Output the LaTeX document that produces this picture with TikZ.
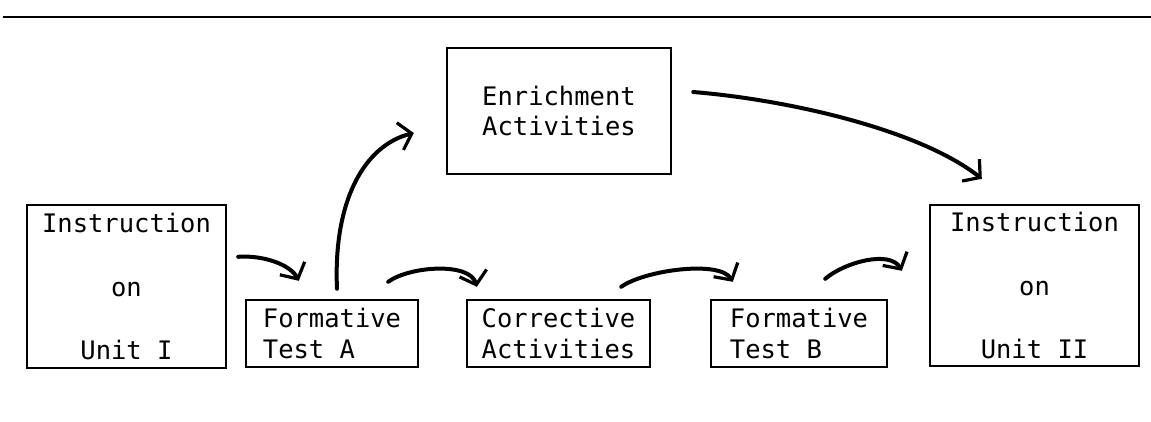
\documentclass[tikz,border=0pt]{standalone}
\usepackage{fontspec}
\setmonofont{DejaVu Sans Mono}
\usetikzlibrary{arrows.meta}
\begin{document}
\begin{tikzpicture}[x=1pt,y=-1pt,
  box/.style={draw, line width=2.4pt, inner sep=0pt,
    font=\ttfamily\fontsize{25.5}{30.5}\selectfont},
  conn/.style={line width=4pt, line cap=round,
    -{Straight Barb[length=12pt,width=28pt,line width=3.2pt]}}]
\useasboundingbox (0,0) rectangle (1151,422);
% top rule
\draw[line width=2.5pt] (3,17) -- (1151,17);
% boxes
\node[box, minimum width=199pt, minimum height=163pt, align=center] (u1) at (126.5,286.5)
  {Instruction\\[33pt]on\\[33pt]Unit I};
\node[box, minimum width=172pt, minimum height=67pt, align=left] (fa) at (332,333.5)
  {Formative\\Test A};
\node[box, minimum width=183pt, minimum height=67pt, align=left] (ca) at (558.5,333.5)
  {Corrective\\Activities};
\node[box, minimum width=176pt, minimum height=67pt, align=left] (fb) at (799,333.5)
  {Formative\\Test B};
\node[box, minimum width=209pt, minimum height=161pt, align=center] (u2) at (1034.5,285.5)
  {Instruction\\[33pt]on\\[33pt]Unit II};
\node[box, minimum width=224pt, minimum height=126pt, align=left] (en) at (559,111)
  {Enrichment\\Activities};
% connectors
\draw[conn] ([shift={(11,53)}]u1.north east) .. controls (262,255) and (290,264) .. ([shift={(54,-18)}]fa.north west);
\draw[conn] ([shift={(5,-10)}]fa.north) .. controls (333,200) and (365,145) .. ([shift={(-32,22)}]en.west);
\draw[conn] ([shift={(-31,-17)}]fa.north east) .. controls (410,266) and (470,262) .. ([shift={(11,-12)}]ca.north west);
\draw[conn] ([shift={(-30,-12)}]ca.north east) .. controls (645,270) and (720,260) .. ([shift={(23,-17)}]fb.north west);
\draw[conn] ([shift={(-63,-20)}]fb.north east) .. controls (845,262) and (890,250) .. ([shift={(-27,67)}]u2.north west);
\draw[conn] ([shift={(21,-19)}]en.east) .. controls (790,100) and (920,130) .. ([shift={(53,-25)}]u2.north west);
\end{tikzpicture}
\end{document}
